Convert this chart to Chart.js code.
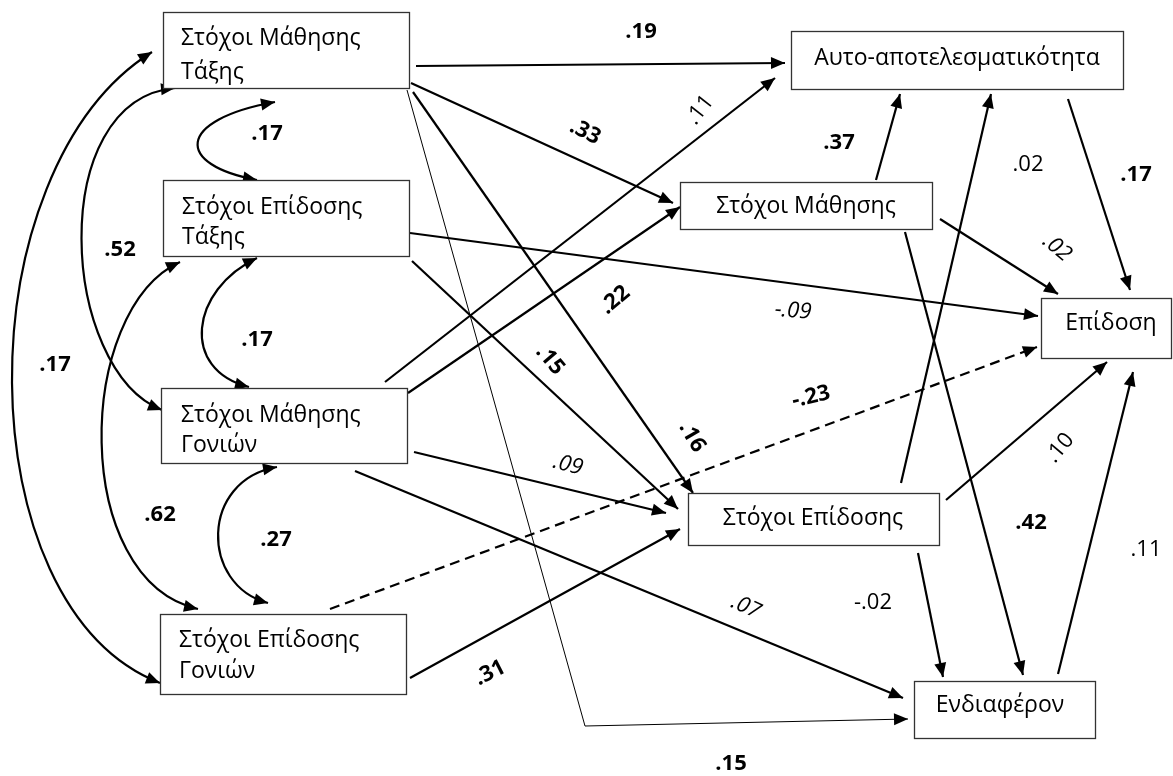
<!DOCTYPE html>
<html>
<head>
<meta charset="utf-8">
<script src="https://cdn.jsdelivr.net/npm/chart.js@4.4.1/dist/chart.umd.min.js"></script>
<style>
  html, body { margin: 0; padding: 0; background: #fff; }
  canvas { display: block; }
</style>
</head>
<body>
<canvas id="pathChart" width="1173" height="776"></canvas>
<script>
// ---- data ----
const nodeLabels = [
    ['Στόχοι Μάθησης', 'Τάξης'],      // 0
    ['Στόχοι Επίδοσης', 'Τάξης'],     // 1
    ['Στόχοι Μάθησης', 'Γονιών'],     // 2
    ['Στόχοι Επίδοσης', 'Γονιών'],    // 3
    ['Αυτο-αποτελεσματικότητα'],      // 4
    ['Στόχοι Μάθησης'],               // 5
    ['Επίδοση'],                      // 6
    ['Στόχοι Επίδοσης'],              // 7
    ['Ενδιαφέρον']                    // 8
];

// direct paths
const pathFrom = [0, 0, 2, 2, 0, 0, 1, 1, 2, 2, 3, 3, 5, 7, 4, 5, 5, 7, 7, 8];
const pathTo   = [4, 5, 4, 5, 7, 8, 6, 7, 7, 8, 7, 6, 4, 4, 6, 6, 8, 6, 8, 6];
const pathCoef = ['.19', '.33', '.11', '.22', '.16', '.15', '-.09', '.15', '.09', '.07',
                  '.31', '-.23', '.37', '.02', '.17', '.02', '.42', '.10', '-.02', '.11'];
const pathSig  = [1, 1, 0, 1, 1, 1, 0, 1, 0, 0, 1, 1, 1, 0, 1, 0, 1, 0, 0, 0];

// correlations (double-headed curves)
const corrA    = [0, 1, 2, 0, 1, 0];
const corrB    = [1, 2, 3, 2, 3, 3];
const corrCoef = ['.17', '.17', '.27', '.52', '.62', '.17'];

// ---- layout (axis units) ----
const nodeBox = [
    { box: [163, 12, 409, 88],   text: [181, 45], lh: 34 },
    { box: [163, 180, 409, 256], text: [182, 214], lh: 30 },
    { box: [161, 388, 407, 463], text: [181, 422], lh: 30 },
    { box: [160, 614, 406, 694], text: [179, 647], lh: 31 },
    { box: [791, 31, 1123, 89],  text: [957, 65], center: true },
    { box: [680, 182, 932, 229], text: [806, 213], center: true },
    { box: [1041, 298, 1171, 358], text: [1111, 330], center: true },
    { box: [688, 493, 939, 545], text: [813, 525], center: true },
    { box: [914, 681, 1095, 738], text: [1000, 712], center: true }
];

const pathGeom = [
    { pts: [[416, 66], [785, 63]],   lab: [641, 32, 0] },
    { pts: [[411, 83], [673, 203]],  lab: [585, 132, 27] },
    { pts: [[385, 382], [775, 78]],  lab: [700, 110, -52] },
    { pts: [[408, 393], [680, 207]], lab: [615, 300, -40] },
    { pts: [[413, 92], [693, 493]],  lab: [692, 437, 60] },
    { pts: [[407, 90], [585, 726], [908, 719]], lab: [731, 764, 0], thin: true },
    { pts: [[410, 233], [1038, 316]], lab: [793, 311, 5], italic: true },
    { pts: [[412, 261], [678, 509]], lab: [550, 360, 50] },
    { pts: [[414, 452], [666, 513]], lab: [568, 465, 15], italic: true },
    { pts: [[355, 471], [903, 698]], lab: [746, 607, 25], italic: true },
    { pts: [[410, 678], [680, 529]], lab: [490, 673, -27] },
    { pts: [[330, 609], [1037, 347]], lab: [811, 397, -13], dashed: true },
    { pts: [[876, 180], [900, 94]],  lab: [839, 143, 0] },
    { pts: [[901, 483], [991, 94]],  lab: [1028, 165, 0] },
    { pts: [[1068, 99], [1130, 290]], lab: [1136, 175, 0] },
    { pts: [[940, 219], [1058, 294]], lab: [1057, 248, 40], italic: true },
    { pts: [[905, 232], [1023, 675]], lab: [1031, 523, 0] },
    { pts: [[946, 500], [1107, 362]], lab: [1060, 448, -50] },
    { pts: [[918, 553], [943, 677]], lab: [873, 603, 0] },
    { pts: [[1058, 674], [1133, 372]], lab: [1146, 550, 0] }
];

const corrGeom = [
    { c: [[275, 102], [175, 120], [175, 165], [257, 180]], lab: [267, 134] },
    { c: [[257, 258], [190, 290], [180, 370], [249, 387]], lab: [257, 340] },
    { c: [[277, 467], [200, 480], [200, 585], [268, 603]], lab: [276, 540] },
    { c: [[175, 88], [45, 100], [60, 370], [162, 410]],    lab: [120, 250] },
    { c: [[180, 262], [75, 310], [70, 580], [198, 609]],   lab: [160, 515] },
    { c: [[152, 52], [-36, 170], [-36, 606], [160, 683]],  lab: [55, 365] }
];

const FONT = '"Open Sans", "Noto Sans", sans-serif';

function drawHead(ctx, tx, ty, fx, fy) {
    const a = Math.atan2(ty - fy, tx - fx);
    const len = 14, hw = 6;
    ctx.beginPath();
    ctx.moveTo(tx, ty);
    ctx.lineTo(tx - len * Math.cos(a) + hw * Math.sin(a), ty - len * Math.sin(a) - hw * Math.cos(a));
    ctx.lineTo(tx - len * Math.cos(a) - hw * Math.sin(a), ty - len * Math.sin(a) + hw * Math.cos(a));
    ctx.closePath();
    ctx.fill();
}

function drawLabel(ctx, text, x, y, deg, bold, italic) {
    ctx.save();
    ctx.translate(x, y);
    ctx.rotate(deg * Math.PI / 180);
    ctx.font = (italic ? 'italic ' : '') + (bold ? 'bold ' : '') + '22px ' + FONT;
    ctx.textAlign = 'center';
    ctx.textBaseline = 'middle';
    ctx.fillText(text, 0, 0);
    ctx.restore();
}

const diagramPlugin = {
    id: 'diagram',
    afterDatasetsDraw(chart) {
        const ctx = chart.ctx;
        const px = v => chart.scales.x.getPixelForValue(v);
        const py = v => chart.scales.y.getPixelForValue(v);
        ctx.save();
        ctx.fillStyle = '#000';
        ctx.strokeStyle = '#000';

        // arrow heads on direct paths
        pathGeom.forEach(g => {
            const n = g.pts.length;
            const [tx, ty] = g.pts[n - 1], [fx, fy] = g.pts[n - 2];
            drawHead(ctx, px(tx), py(ty), px(fx), py(fy));
        });

        // correlation curves
        ctx.lineWidth = 2.2;
        corrGeom.forEach(g => {
            const p = g.c.map(q => [px(q[0]), py(q[1])]);
            ctx.beginPath();
            ctx.moveTo(p[0][0], p[0][1]);
            ctx.bezierCurveTo(p[1][0], p[1][1], p[2][0], p[2][1], p[3][0], p[3][1]);
            ctx.stroke();
            drawHead(ctx, p[0][0], p[0][1], p[1][0], p[1][1]);
            drawHead(ctx, p[3][0], p[3][1], p[2][0], p[2][1]);
        });

        // boxes
        nodeBox.forEach((nb, i) => {
            const x0 = px(nb.box[0]), y0 = py(nb.box[1]);
            const x1 = px(nb.box[2]), y1 = py(nb.box[3]);
            ctx.fillStyle = '#fff';
            ctx.fillRect(x0, y0, x1 - x0, y1 - y0);
            ctx.strokeStyle = '#333';
            ctx.lineWidth = 1.3;
            ctx.strokeRect(x0 + 0.5, y0 + 0.5, x1 - x0, y1 - y0);
            ctx.fillStyle = '#000';
            ctx.font = '23px ' + FONT;
            ctx.textBaseline = 'alphabetic';
            ctx.textAlign = nb.center ? 'center' : 'left';
            nodeLabels[i].forEach((line, k) => {
                ctx.fillText(line, px(nb.text[0]), py(nb.text[1] + k * (nb.lh || 0)));
            });
        });

        // coefficient labels
        ctx.fillStyle = '#000';
        pathGeom.forEach((g, i) => {
            drawLabel(ctx, pathCoef[i], px(g.lab[0]), py(g.lab[1]), g.lab[2], pathSig[i] === 1, g.italic);
        });
        corrGeom.forEach((g, i) => {
            drawLabel(ctx, corrCoef[i], px(g.lab[0]), py(g.lab[1]), 0, true, false);
        });
        ctx.restore();
    }
};

const datasets = pathGeom.map((g, i) => ({
    label: nodeLabels[pathFrom[i]].join(' ') + ' → ' + nodeLabels[pathTo[i]].join(' '),
    data: g.pts.map(p => ({ x: p[0], y: p[1] })),
    showLine: true,
    borderColor: '#000',
    borderWidth: g.thin ? 1 : 2.2,
    borderDash: g.dashed ? [10, 6] : [],
    pointRadius: 0,
    tension: 0,
    clip: false
}));

const ctxDiagram = document.getElementById('pathChart').getContext('2d');
const diagramChart = new Chart(ctxDiagram, {
    type: 'scatter',
    data: { datasets: datasets },
    options: {
        responsive: false,
        animation: false,
        layout: { padding: 0 },
        plugins: {
            legend: { display: false },
            tooltip: { enabled: false }
        },
        scales: {
            x: { type: 'linear', min: 0, max: 1173, display: false },
            y: { type: 'linear', min: 0, max: 776, reverse: true, display: false }
        }
    },
    plugins: [diagramPlugin]
});
</script>
</body>
</html>
